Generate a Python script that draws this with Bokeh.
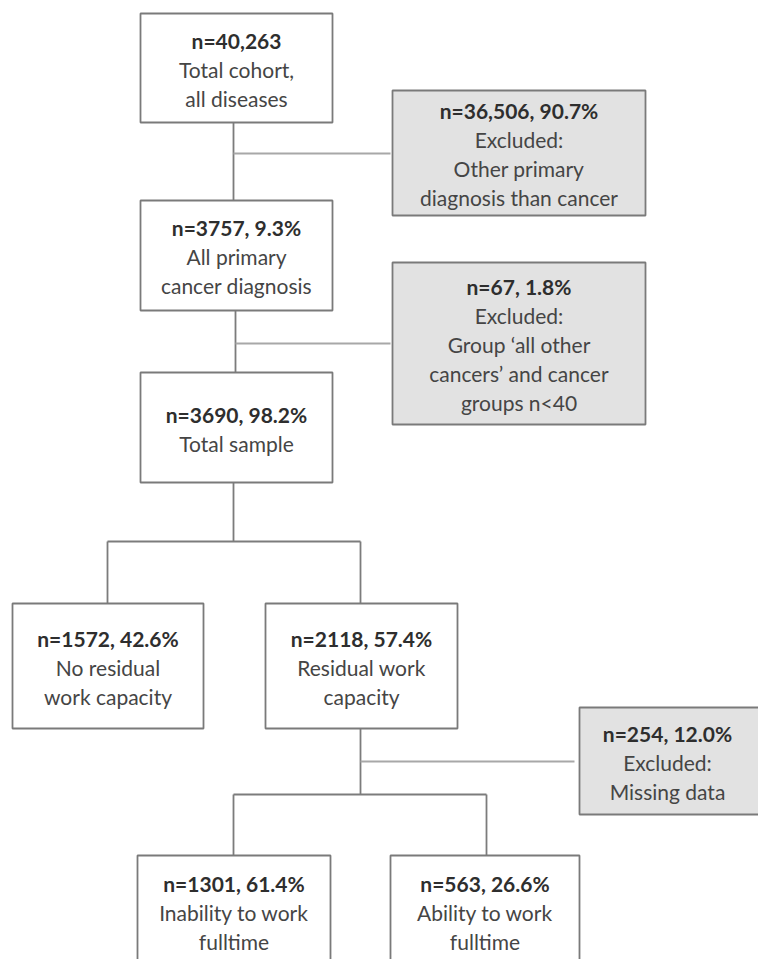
from bokeh.plotting import figure
from bokeh.models import Range1d
from bokeh.embed import file_html
from bokeh.resources import INLINE
from bokeh.core.properties import value

# ---- data: flowchart node texts ----
node_ids = ["total", "excl1", "cancer", "excl2", "sample", "nores", "res", "excl3", "unable", "able"]
node_counts = ["n=40,263", "n=36,506, 90.7%", "n=3757, 9.3%", "n=67, 1.8%", "n=3690, 98.2%",
               "n=1572, 42.6%", "n=2118, 57.4%", "n=254, 12.0%", "n=1301, 61.4%", "n=563, 26.6%"]
node_labels = [
    ["Total cohort,", "all diseases"],
    ["Excluded:", "Other primary", "diagnosis than cancer"],
    ["All primary", "cancer diagnosis"],
    ["Excluded:", "Group \u2018all other", "cancers\u2019 and cancer", "groups n<40"],
    ["Total sample"],
    ["No residual", "work capacity"],
    ["Residual work", "capacity"],
    ["Excluded:", "Missing data"],
    ["Inability to work", "fulltime"],
    ["Ability to work", "fulltime"],
]
node_excluded = [False, True, False, True, False, False, False, True, False, False]

# ---- layout (reference pixel coordinates) ----
box_x0 = [140, 392, 140, 392, 140, 12, 265, 579, 137, 390]
box_x1 = [332, 645, 332, 645, 332, 203, 457, 770, 330, 579]
box_y0 = [13, 90, 200, 262, 372, 603, 603, 707, 855, 855]
box_y1 = [122, 215, 310, 424, 482, 728, 728, 814, 975, 975]

main_lines = [  # (x0, y0, x1, y1)
    (233, 122, 233, 200),
    (235, 310, 235, 372),
    (233, 482, 233, 541),
    (107, 541, 360, 541),
    (107, 541, 107, 603),
    (360, 541, 360, 603),
    (360, 728, 360, 794),
    (233, 794, 486, 794),
    (233, 794, 233, 855),
    (486, 794, 486, 855),
]
excl_lines = [
    (233, 153, 390, 153),
    (235, 343, 390, 343),
    (360, 761, 574, 761),
]

W, H = 758, 959
p = figure(width=W, height=H, output_backend="svg", toolbar_location=None,
           x_range=Range1d(0, W), y_range=Range1d(H, 0),
           min_border=0, background_fill_color="white", border_fill_color="white")
p.axis.visible = False
p.grid.visible = False
p.outline_line_color = None

LINE_COL = "#7c7c7c"
EXCL_LINE_COL = "#a8a8a8"

p.segment(x0=[l[0] for l in main_lines], y0=[l[1] for l in main_lines],
          x1=[l[2] for l in main_lines], y1=[l[3] for l in main_lines],
          line_color=LINE_COL, line_width=1.8)
p.segment(x0=[l[0] for l in excl_lines], y0=[l[1] for l in excl_lines],
          x1=[l[2] for l in excl_lines], y1=[l[3] for l in excl_lines],
          line_color=EXCL_LINE_COL, line_width=2.2)

fills = ["#e2e2e2" if e else "white" for e in node_excluded]
p.quad(left=box_x0, right=box_x1, top=box_y0, bottom=box_y1,
       fill_color=fills, line_color="#7a7a7a", line_width=1.8)

LINE_H = 29
FONT = "Lato"
bx, by, bt = [], [], []
rx, ry, rt = [], [], []
for i in range(len(node_ids)):
    lines = [node_counts[i]] + node_labels[i]
    cx = (box_x0[i] + box_x1[i]) / 2
    if node_ids[i] in ("unable", "able"):
        cy0 = 883
    else:
        cy = (box_y0[i] + box_y1[i]) / 2 + 1
        cy0 = cy - (len(lines) - 1) * LINE_H / 2
    if node_ids[i] == "excl3":
        cx = 667
    for j, t in enumerate(lines):
        y = cy0 + j * LINE_H
        if j == 0:
            bx.append(cx); by.append(y); bt.append(t)
        else:
            rx.append(cx); ry.append(y); rt.append(t)

p.text(x=bx, y=by, text=bt, text_font=value(FONT), text_font_size="21px",
       text_font_style="bold", text_color="#2e2e2e", text_align="center", text_baseline="middle")
p.text(x=rx, y=ry, text=rt, text_font=value(FONT), text_font_size="21px",
       text_color="#454545", text_align="center", text_baseline="middle")

open("out.html", "w").write(file_html(p, INLINE))
